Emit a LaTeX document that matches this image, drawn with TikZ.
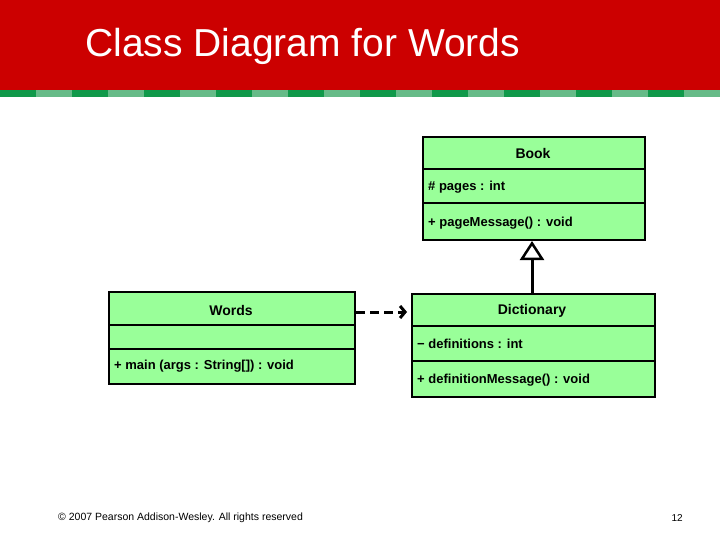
\documentclass[tikz,border=0pt]{standalone}
\usepackage{fontspec}
\setmainfont{Liberation Sans}
\usetikzlibrary{arrows.meta}
\definecolor{hdrred}{RGB}{204,0,0}
\definecolor{dkgreen}{RGB}{16,153,74}
\definecolor{ltgreen}{RGB}{102,187,136}
\definecolor{boxgreen}{RGB}{153,255,153}
\begin{document}
\begin{tikzpicture}[x=1pt,y=-1pt,
  cls/.style={draw=black,line width=1.8pt,fill=boxgreen,inner sep=0,anchor=north west},
  txt/.style={font=\fontsize{14}{16}\selectfont\bfseries,inner sep=0},
  stxt/.style={font=\fontsize{13}{15}\selectfont\bfseries,inner sep=0},
  comp/.style={line width=1.8pt}]
\useasboundingbox (0,0) rectangle (720,540);
\fill[white] (0,0) rectangle (720,540);
\fill[hdrred] (0,0) rectangle (720,90);
\foreach \i in {0,...,19}{
  \pgfmathsetmacro\xx{\i*36}
  \ifodd\i \fill[ltgreen] (\xx,90) rectangle ++(36,7);
  \else \fill[dkgreen] (\xx,90) rectangle ++(36,7); \fi}
\node[anchor=west,text=white,font=\fontsize{39}{44}\selectfont,inner sep=0] (title) at (85,46) {Class Diagram for Words};
% Book
\node[cls,minimum width=222,minimum height=103] (book) at (422,136) {};
\draw[comp] (422,169) -- (644,169) (422,203) -- (644,203);
\node[txt] (bookt) at (533,153) {Book};
\node[stxt,anchor=west] (booka) at (428,187) {\# pages : int};
\node[stxt,anchor=west] (bookm) at (428,223) {+ pageMessage() : void};
% Dictionary
\node[cls,minimum width=243,minimum height=103] (dict) at (411,293) {};
\draw[comp] (411,326) -- (654,326) (411,361) -- (654,361);
\node[txt] (dictt) at (532,311) {Dictionary};
\node[stxt,anchor=west] (dicta) at (417,344) {\textminus{} definitions : int};
\node[stxt,anchor=west] (dictm) at (417,380) {+ definitionMessage() : void};
% Words
\node[cls,minimum width=246,minimum height=92] (words) at (108,291) {};
\draw[comp] (108,325) -- (354,325) (108,349) -- (354,349);
\node[txt] (wordst) at (231,310) {Words};
\node[stxt,anchor=west] (wordsm) at (114,366) {+ main (args : String[]) : void};
% connectors
\coordinate (dsrc) at (356,312);
\coordinate (ddst) at (407,312);
\draw[line width=3pt,dash pattern=on 9pt off 5pt,-{Straight Barb[length=5pt,width=12pt,line width=3pt]}] (dsrc) -- (ddst);
\coordinate (itop) at (532,241);
\draw[line width=3pt,-{Triangle[open,length=19pt,width=24pt,line width=2.5pt]}] (532,293) -- (itop);
% footer
\node[anchor=west,font=\fontsize{10.5}{12}\selectfont,inner sep=0] (copy) at (58,518) {© 2007 Pearson Addison-Wesley. All rights reserved};
\node[anchor=east,font=\fontsize{10}{12}\selectfont,inner sep=0] (pg) at (683,518) {12};
\end{tikzpicture}
\end{document}
